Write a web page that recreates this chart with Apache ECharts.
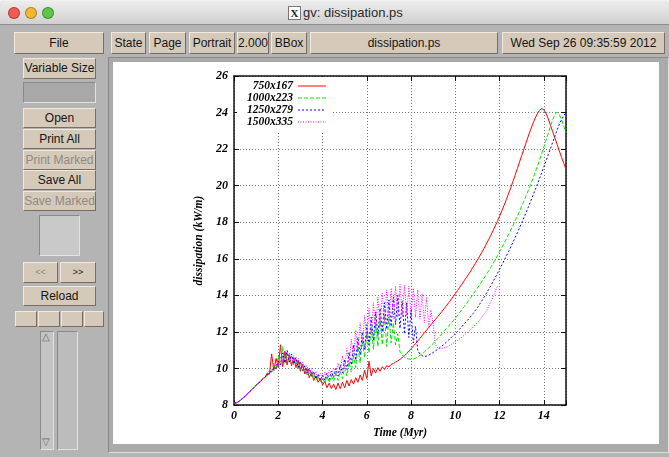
<!DOCTYPE html>
<html>
<head>
<meta charset="utf-8">
<script src="https://cdn.jsdelivr.net/npm/echarts@6/dist/echarts.min.js"></script>
<style>
body{margin:0;width:669px;height:457px;overflow:hidden;background:#f2f2f2;font-family:"Liberation Sans",Arial,sans-serif;font-size:12px;position:relative}
.win{position:absolute;left:0;top:1px;width:669px;height:456px;background:#b4b4b4;border-radius:5px 5px 0 0;overflow:hidden}
.title{position:absolute;left:0;top:0;width:669px;height:23px;background:linear-gradient(#ededed,#d0d0d0);border-bottom:1px solid #8c8c8c}
.dot{position:absolute;top:6px;width:12px;height:12px;border-radius:50%;box-sizing:border-box;border:1px solid rgba(0,0,0,.3)}
.ttl{position:absolute;left:303px;top:4px;font-size:13px;color:#2a2a2a}
.xicon{position:absolute;left:288px;top:5px;width:11px;height:12px;background:#fff;border:1px solid #777;font:bold 11px "Liberation Serif",serif;line-height:12px;text-align:center;color:#222}
.btn{position:absolute;box-sizing:border-box;background:#d5c9b9;border:1px solid;border-color:#f1e9dd #786d60 #786d60 #f1e9dd;text-align:center;color:#161616;white-space:nowrap;overflow:hidden}
.off{color:#8f8a84}
.box{position:absolute;box-sizing:border-box;border:1px solid;border-color:#8a8a8a #e2e2e2 #e2e2e2 #8a8a8a}
.frame{position:absolute;left:108px;top:56px;width:561px;height:396px;box-sizing:border-box;border:1px solid;border-color:#888 #ddd #ddd #888;background:#aaa}
#chart{position:absolute;left:113px;top:62px;width:546px;height:382px;background:#fff}
</style>
</head>
<body>
<div class="win">
  <div class="title">
    <div class="dot" style="left:8px;background:#f25a52"></div>
    <div class="dot" style="left:25px;background:#f4b631"></div>
    <div class="dot" style="left:42px;background:#5fc54a"></div>
    <div class="xicon">X</div>
    <div class="ttl">gv: dissipation.ps</div>
  </div>
  <div class="btn" style="left:14px;top:31px;width:90px;height:22px;line-height:20px">File</div>
  <div class="btn" style="left:111px;top:31px;width:35px;height:22px;line-height:20px">State</div>
  <div class="btn" style="left:149px;top:31px;width:37px;height:22px;line-height:20px">Page</div>
  <div class="btn" style="left:189px;top:31px;width:46px;height:22px;line-height:20px">Portrait</div>
  <div class="btn" style="left:237px;top:31px;width:32px;height:22px;line-height:20px">2.000</div>
  <div class="btn" style="left:271px;top:31px;width:36px;height:22px;line-height:20px">BBox</div>
  <div class="btn" style="left:310px;top:31px;width:188px;height:22px;line-height:20px">dissipation.ps</div>
  <div class="btn" style="left:502px;top:31px;width:163px;height:22px;line-height:20px">Wed Sep 26 09:35:59 2012</div>

  <div class="btn" style="left:23px;top:57px;width:73px;height:21px;line-height:19px">Variable Size</div>
  <div class="box" style="left:23px;top:81px;width:73px;height:21px;background:#a8a8a8"></div>
  <div class="btn" style="left:23px;top:107px;width:73px;height:20px;line-height:18px">Open</div>
  <div class="btn" style="left:23px;top:128px;width:73px;height:20px;line-height:18px">Print All</div>
  <div class="btn off" style="left:23px;top:149px;width:73px;height:20px;line-height:18px">Print Marked</div>
  <div class="btn" style="left:23px;top:169px;width:73px;height:20px;line-height:18px">Save All</div>
  <div class="btn off" style="left:23px;top:190px;width:73px;height:20px;line-height:18px">Save Marked</div>
  <div class="box" style="left:39px;top:214px;width:41px;height:41px;background:#c9c9c9"></div>
  <div class="btn off" style="left:23px;top:261px;width:35px;height:21px;line-height:19px;font-size:9px">&lt;&lt;</div>
  <div class="btn" style="left:60px;top:261px;width:36px;height:21px;line-height:19px;font-size:9px">&gt;&gt;</div>
  <div class="btn" style="left:23px;top:285px;width:73px;height:20px;line-height:18px">Reload</div>
  <div class="btn" style="left:15px;top:310px;width:22px;height:16px"></div>
  <div class="btn" style="left:38px;top:310px;width:22px;height:16px"></div>
  <div class="btn" style="left:61px;top:310px;width:22px;height:16px"></div>
  <div class="btn" style="left:84px;top:310px;width:20px;height:16px"></div>
  <div class="box" style="left:40px;top:330px;width:14px;height:119px;background:#c4c4c4"></div>
  <div style="position:absolute;left:42px;top:330px;font-size:10px;color:#666">&#9651;</div>
  <div style="position:absolute;left:42px;top:435px;font-size:10px;color:#666">&#9661;</div>
  <div class="box" style="left:57px;top:330px;width:21px;height:119px;background:#bcbcbc"></div>
  <div class="frame"></div>
</div>
<div id="chart"></div>
<script>
// time axis (Myr), one sample every 0.1
const timeMyr = [
  0.0, 0.1, 0.2, 0.3, 0.4, 0.5, 0.6, 0.7, 0.8, 0.9,
  1.0, 1.1, 1.2, 1.3, 1.4, 1.5, 1.6, 1.7, 1.8, 1.9,
  2.0, 2.1, 2.2, 2.3, 2.4, 2.5, 2.6, 2.7, 2.8, 2.9,
  3.0, 3.1, 3.2, 3.3, 3.4, 3.5, 3.6, 3.7, 3.8, 3.9,
  4.0, 4.1, 4.2, 4.3, 4.4, 4.5, 4.6, 4.7, 4.8, 4.9,
  5.0, 5.1, 5.2, 5.3, 5.4, 5.5, 5.6, 5.7, 5.8, 5.9,
  6.0, 6.1, 6.2, 6.3, 6.4, 6.5, 6.6, 6.7, 6.8, 6.9,
  7.0, 7.1, 7.2, 7.3, 7.4, 7.5, 7.6, 7.7, 7.8, 7.9,
  8.0, 8.1, 8.2, 8.3, 8.4, 8.5, 8.6, 8.7, 8.8, 8.9,
  9.0, 9.1, 9.2, 9.3, 9.4, 9.5, 9.6, 9.7, 9.8, 9.9,
  10.0, 10.1, 10.2, 10.3, 10.4, 10.5, 10.6, 10.7, 10.8, 10.9,
  11.0, 11.1, 11.2, 11.3, 11.4, 11.5, 11.6, 11.7, 11.8, 11.9,
  12.0, 12.1, 12.2, 12.3, 12.4, 12.5, 12.6, 12.7, 12.8, 12.9,
  13.0, 13.1, 13.2, 13.3, 13.4, 13.5, 13.6, 13.7, 13.8, 13.9,
  14.0, 14.1, 14.2, 14.3, 14.4, 14.5, 14.6, 14.7, 14.8, 14.9,
  15.0
]

// dissipation (kW/m), 750x167
const diss750 = [
  8.10, 8.12, 8.18, 8.27, 8.37, 8.48, 8.60, 8.72, 8.84, 8.96,
  9.08, 9.20, 9.28, 9.45, 9.50, 9.75, 9.68, 10.80, 9.90, 10.55,
  10.05, 11.30, 10.10, 10.95, 10.20, 10.75, 10.15, 10.60, 10.05, 10.45,
  9.85, 10.25, 9.70, 10.00, 9.50, 9.80, 9.35, 9.60, 9.25, 9.45,
  9.10, 9.30, 8.95, 9.20, 8.90, 9.15, 8.85, 9.20, 8.90, 9.25,
  8.95, 9.35, 9.05, 9.40, 9.15, 9.50, 9.25, 9.65, 9.35, 9.90,
  9.45, 10.40, 9.60, 10.00, 9.75, 10.05, 9.85, 10.10, 9.95, 10.15,
  10.10, 10.22, 10.28, 10.35, 10.42, 10.50, 10.60, 10.70, 10.82, 10.95,
  11.08, 11.22, 11.36, 11.50, 11.65, 11.80, 11.95, 12.10, 12.25, 12.40,
  12.55, 12.69, 12.83, 12.98, 13.13, 13.28, 13.44, 13.60, 13.76, 13.93,
  14.10, 14.27, 14.44, 14.62, 14.80, 14.98, 15.16, 15.35, 15.54, 15.74,
  15.94, 16.15, 16.36, 16.58, 16.81, 17.04, 17.28, 17.53, 17.79, 18.05,
  18.33, 18.62, 18.92, 19.23, 19.55, 19.88, 20.22, 20.57, 20.93, 21.29,
  21.65, 22.01, 22.37, 22.72, 23.06, 23.38, 23.67, 23.93, 24.12, 24.22,
  24.15, 23.95, 23.65, 23.30, 22.95, 22.60, 22.25, 21.90, 21.55, 21.22,
  20.90
]

// 1000x223
const diss1000 = [
  8.09, 8.11, 8.17, 8.26, 8.36, 8.47, 8.59, 8.71, 8.83, 8.95,
  9.07, 9.18, 9.30, 9.40, 9.58, 9.60, 9.90, 9.75, 10.30, 9.95,
  10.70, 10.15, 11.20, 10.25, 10.90, 10.30, 10.70, 10.20, 10.55, 10.00,
  10.35, 9.85, 10.10, 9.65, 9.95, 9.50, 9.75, 9.35, 9.60, 9.25,
  9.50, 9.20, 9.55, 9.25, 9.60, 9.30, 9.70, 9.35, 9.85, 9.45,
  10.05, 9.60, 10.35, 9.80, 10.70, 10.05, 11.20, 10.30, 11.60, 10.60,
  11.90, 10.85, 12.20, 11.05, 12.50, 11.20, 12.70, 11.30, 12.95, 11.20,
  12.80, 11.40, 12.50, 11.30, 11.90, 10.90, 10.75, 10.62, 10.55, 10.52,
  10.50, 10.52, 10.57, 10.64, 10.72, 10.81, 10.91, 11.02, 11.13, 11.25,
  11.37, 11.50, 11.63, 11.77, 11.91, 12.05, 12.19, 12.33, 12.47, 12.61,
  12.75, 12.91, 13.07, 13.23, 13.39, 13.55, 13.72, 13.89, 14.06, 14.23,
  14.40, 14.58, 14.76, 14.95, 15.14, 15.33, 15.53, 15.74, 15.95, 16.17,
  16.40, 16.62, 16.85, 17.08, 17.32, 17.56, 17.81, 18.07, 18.33, 18.60,
  18.88, 19.16, 19.45, 19.75, 20.06, 20.37, 20.70, 21.04, 21.39, 21.75,
  22.12, 22.50, 22.88, 23.25, 23.62, 23.90, 24.02, 23.90, 23.60, 23.25,
  22.90
]

// 1250x279
const diss1250 = [
  8.11, 8.13, 8.19, 8.28, 8.38, 8.49, 8.61, 8.73, 8.85, 8.97,
  9.09, 9.20, 9.31, 9.42, 9.55, 9.63, 9.80, 9.83, 10.05, 10.00,
  10.40, 10.20, 10.85, 10.30, 11.00, 10.35, 10.80, 10.25, 10.60, 10.05,
  10.40, 9.90, 10.15, 9.75, 10.00, 9.60, 9.85, 9.45, 9.70, 9.35,
  9.65, 9.35, 9.75, 9.40, 9.85, 9.50, 10.00, 9.60, 10.20, 9.75,
  10.50, 9.95, 10.90, 10.20, 11.30, 10.45, 11.70, 10.75, 12.00, 11.05,
  12.40, 11.30, 12.80, 11.55, 13.10, 11.80, 13.30, 12.00, 13.60, 12.15,
  13.75, 12.30, 13.90, 12.40, 14.00, 12.20, 13.70, 11.90, 13.60, 11.70,
  13.20, 11.40, 12.30, 11.00, 10.80, 10.70, 10.66, 10.68, 10.73, 10.80,
  10.88, 10.96, 11.05, 11.14, 11.24, 11.34, 11.45, 11.56, 11.68, 11.80,
  11.92, 12.04, 12.17, 12.30, 12.43, 12.57, 12.71, 12.86, 13.01, 13.17,
  13.33, 13.52, 13.71, 13.91, 14.11, 14.32, 14.53, 14.75, 14.97, 15.20,
  15.43, 15.66, 15.90, 16.14, 16.39, 16.64, 16.90, 17.16, 17.43, 17.70,
  17.98, 18.26, 18.55, 18.84, 19.14, 19.44, 19.75, 20.06, 20.38, 20.70,
  21.03, 21.36, 21.70, 22.04, 22.38, 22.72, 23.05, 23.36, 23.62, 23.84,
  24.00
]

// 1500x335 (run stops near 11.9 Myr)
const diss1500 = [
  8.10, 8.13, 8.19, 8.28, 8.38, 8.50, 8.62, 8.74, 8.86, 8.98,
  9.10, 9.21, 9.32, 9.43, 9.53, 9.66, 9.74, 9.95, 9.92, 10.25,
  10.10, 10.65, 10.25, 10.95, 10.35, 10.85, 10.30, 10.70, 10.15, 10.55,
  10.00, 10.35, 9.85, 10.15, 9.70, 10.00, 9.55, 9.85, 9.45, 9.75,
  9.40, 9.80, 9.45, 9.90, 9.55, 10.05, 9.65, 10.30, 9.80, 10.70,
  10.00, 11.10, 10.25, 11.60, 10.55, 12.10, 10.90, 12.50, 11.25, 12.90,
  11.60, 13.30, 11.90, 13.60, 12.10, 13.90, 12.30, 14.10, 12.50, 14.30,
  12.60, 14.40, 12.70, 14.50, 12.80, 14.60, 12.85, 14.55, 12.90, 14.50,
  12.85, 14.40, 12.80, 14.30, 12.70, 14.10, 12.50, 13.90, 12.30, 13.20,
  12.40, 11.30, 11.15, 11.10, 11.10, 11.13, 11.18, 11.24, 11.31, 11.38,
  11.46, 11.54, 11.63, 11.72, 11.82, 11.92, 12.03, 12.14, 12.26, 12.39,
  12.52, 12.66, 12.81, 12.97, 13.15, 13.40, 13.65, 13.90, 14.20, 14.50
]

const runNames = ['750x167', '1000x223', '1250x279', '1500x335']
const runColors = ['#ff0000', '#00e600', '#0000ff', '#ff00ff']
const runDash = ['solid', [4, 2], [2, 2], [1, 1.5]]
const runValues = [diss750, diss1000, diss1250, diss1500]

const serifBold = {
  fontFamily: '"Liberation Serif", "DejaVu Serif", serif',
  fontStyle: 'italic',
  fontWeight: 'bold',
  color: '#000'
}
const frameLine = { show: true, lineStyle: { color: '#111', width: 1.5 } }
const innerTick = { show: true, inside: true, length: 5, lineStyle: { color: '#111', width: 1 } }
const gridDots = { show: true, lineStyle: { color: '#7a7a7a', width: 1, type: [1, 2] } }

const chart = echarts.init(document.getElementById('chart'), null, { renderer: 'canvas' })

const option = {
  animation: false,
  backgroundColor: '#fff',
  grid: { left: 121, top: 14, width: 332, height: 331.5 },
  legend: {
    orient: 'vertical',
    left: 124,
    top: 15,
    align: 'right',
    itemWidth: 28,
    itemHeight: 8,
    itemGap: 0,
    padding: [3, 5, 4, 10],
    backgroundColor: '#fff',
    selectedMode: false,
    itemStyle: { opacity: 0 },
    lineStyle: { width: 1 },
    textStyle: Object.assign({ fontSize: 11.5, lineHeight: 11 }, serifBold),
    data: runNames
  },
  xAxis: [
    {
      type: 'value', min: 0, max: 15, interval: 2, position: 'bottom',
      name: 'Time (Myr)', nameLocation: 'middle', nameGap: 21,
      nameTextStyle: Object.assign({ fontSize: 11.5 }, serifBold),
      axisLine: Object.assign({ onZero: false }, frameLine),
      axisTick: innerTick,
      axisLabel: Object.assign({
        fontSize: 12, margin: 5,
        formatter: (v) => (v > 14 ? '' : String(v))
      }, serifBold),
      splitLine: gridDots
    },
    {
      type: 'value', min: 0, max: 15, interval: 2, position: 'top',
      axisLine: Object.assign({ onZero: false }, frameLine),
      axisTick: innerTick,
      axisLabel: { show: false },
      splitLine: { show: false }
    }
  ],
  yAxis: [
    {
      type: 'value', min: 8, max: 26, interval: 2, position: 'left',
      name: 'dissipation (kW/m)', nameLocation: 'middle', nameGap: 28, nameRotate: 90,
      nameTextStyle: Object.assign({ fontSize: 11.5 }, serifBold),
      axisLine: Object.assign({ onZero: false }, frameLine),
      axisTick: innerTick,
      axisLabel: Object.assign({ fontSize: 12, margin: 6 }, serifBold),
      splitLine: gridDots
    },
    {
      type: 'value', min: 8, max: 26, interval: 2, position: 'right',
      axisLine: Object.assign({ onZero: false }, frameLine),
      axisTick: innerTick,
      axisLabel: { show: false },
      splitLine: { show: false }
    }
  ],
  series: runNames.map((name, k) => ({
    name: name,
    type: 'line',
    xAxisIndex: 0,
    yAxisIndex: 0,
    symbol: 'none',
    silent: true,
    clip: true,
    emphasis: { disabled: true },
    lineStyle: { color: runColors[k], width: 1, type: runDash[k] },
    itemStyle: { color: runColors[k] },
    data: runValues[k].map((v, i) => [timeMyr[i], v])
  }))
}

chart.setOption(option)
</script>
</body>
</html>
